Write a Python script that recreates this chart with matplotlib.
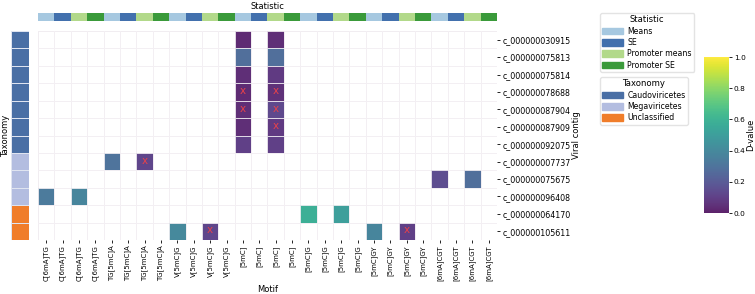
import numpy as np
import matplotlib
matplotlib.use("Agg")
import matplotlib.pyplot as plt
from matplotlib.colors import ListedColormap
from matplotlib.patches import Patch

motif_names = ["C[6mA]TG", "TG[5mC]A", "V[5mC]G", "[5mC]", "[5mC]G", "[5mC]GY", "[6mA]CGT"]
stat_names = ["Means", "SE", "Promoter means", "Promoter SE"]
stat_colors = ["#a6c8e0", "#4270ad", "#b2d98a", "#3a9a3a"]

contigs = ["c_000000030915", "c_000000075813", "c_000000075814", "c_000000078688",
           "c_000000087904", "c_000000087909", "c_000000092075", "c_000000007737",
           "c_000000075675", "c_000000096408", "c_000000064170", "c_000000105611"]
taxonomy = ["Caudoviricetes"] * 7 + ["Megaviricetes"] * 3 + ["Unclassified"] * 2
tax_names = ["Caudoviricetes", "Megaviricetes", "Unclassified"]
tax_colors = ["#4a6fa5", "#b3bde0", "#f07d2a"]

# sparse cells: row, column, D-value, significance mark
cell_rows = [0, 1, 2, 3, 4, 5, 6,
             0, 1, 2, 3, 4, 5, 6,
             7, 7, 8, 8, 9, 9, 10, 10, 11, 11, 11, 11]
cell_cols = [12, 12, 12, 12, 12, 12, 12,
             14, 14, 14, 14, 14, 14, 14,
             4, 6, 24, 26, 0, 2, 16, 18, 8, 10, 20, 22]
cell_vals = [0.03, 0.28, 0.04, 0.03, 0.04, 0.04, 0.10,
             0.04, 0.28, 0.08, 0.05, 0.13, 0.08, 0.10,
             0.30, 0.12, 0.15, 0.28, 0.33, 0.38, 0.58, 0.50, 0.40, 0.12, 0.38, 0.10]
cell_flag = [0, 0, 0, 1, 1, 0, 0,
             0, 0, 0, 1, 1, 1, 0,
             0, 1, 0, 0, 0, 0, 0, 0, 0, 1, 0, 1]

col_labels = [m for m in motif_names for _ in stat_names]
col_stats = list(range(len(stat_names))) * len(motif_names)
n_rows, n_cols = len(contigs), len(col_labels)

D = np.full((n_rows, n_cols), np.nan)
for r, c, v in zip(cell_rows, cell_cols, cell_vals):
    D[r, c] = v

W, H = 755, 294
fig = plt.figure(figsize=(W / 100, H / 100), dpi=100)

def px_axes(x0, y0, x1, y1):
    return fig.add_axes([x0 / W, 1 - y1 / H, (x1 - x0) / W, (y1 - y0) / H])

fs = 5.7
grid_c = "#e2dce2"

# main heatmap
ax = px_axes(38, 31, 497, 240)
mesh = ax.pcolormesh(np.ma.masked_invalid(D), cmap="viridis", vmin=0, vmax=1,
                     alpha=0.87, edgecolors="#f4f0f4", linewidth=0.6)
for i in range(n_cols + 1):
    ax.axvline(i, color=grid_c, lw=0.7, zorder=0)
for j in range(n_rows + 1):
    ax.axhline(j, color=grid_c, lw=0.7, zorder=0)
for r, c, f in zip(cell_rows, cell_cols, cell_flag):
    if f:
        ax.text(c + 0.5, r + 0.45, "x", color="#e8424a", ha="center", va="center",
                fontsize=7.5, zorder=5)
ax.set_xlim(0, n_cols)
ax.set_ylim(n_rows, 0)
ax.set_xticks(np.arange(n_cols) + 0.5)
ax.set_xticklabels(col_labels, rotation=90, fontsize=5.0)
ax.set_yticks(np.arange(n_rows) + 0.5)
ax.set_yticklabels(contigs, fontsize=fs)
ax.yaxis.tick_right()
ax.yaxis.set_label_position("right")
ax.tick_params(axis="y", length=2.5, width=0.6, pad=1.2)
ax.tick_params(axis="x", length=2.5, width=0.6, pad=1.2)
ax.set_xlabel("Motif", fontsize=6, labelpad=3)
ax.set_ylabel("Viral contig", fontsize=6, labelpad=1)
for s in ax.spines.values():
    s.set_visible(False)

# statistic bar on top
ax_s = px_axes(38, 13, 497, 21)
ax_s.pcolormesh(np.array([col_stats]), cmap=ListedColormap(stat_colors),
                vmin=-0.5, vmax=len(stat_names) - 0.5)
ax_s.set_xlim(0, n_cols)
ax_s.set_xticks([])
ax_s.set_yticks([])
ax_s.set_title("Statistic", fontsize=6, pad=3)
for s in ax_s.spines.values():
    s.set_visible(False)

# taxonomy bar on left
ax_t = px_axes(11, 31, 29, 240)
tax_idx = np.array([[tax_names.index(t)] for t in taxonomy])
ax_t.pcolormesh(tax_idx, cmap=ListedColormap(tax_colors), vmin=-0.5,
                vmax=len(tax_names) - 0.5, edgecolors="#dfe4f0", linewidth=0.6)
ax_t.set_ylim(n_rows, 0)
ax_t.set_xticks([])
ax_t.set_yticks([])
ax_t.set_ylabel("Taxonomy", fontsize=6, labelpad=0.5)
for s in ax_t.spines.values():
    s.set_visible(False)

# legends
leg_kw = dict(fontsize=5.6, title_fontsize=6.1, frameon=True,
              handlelength=2.6, handleheight=0.9, handletextpad=0.6,
              borderpad=0.3, labelspacing=0.3, borderaxespad=0,
              edgecolor="#dddddd", fancybox=True)
h1 = [Patch(color=c, label=n) for n, c in zip(stat_names, stat_colors)]
fig.legend(handles=h1, title="Statistic", loc="upper left",
           bbox_to_anchor=(600 / W, 1 - 13 / H), **leg_kw)
h2 = [Patch(color=c, label=n) for n, c in zip(tax_names, tax_colors)]
fig.legend(handles=h2, title="Taxonomy", loc="upper left",
           bbox_to_anchor=(600 / W, 1 - 77 / H), **leg_kw)

# colorbar
cax = px_axes(704, 57, 729, 213)
cb = fig.colorbar(mesh, cax=cax, ticks=np.arange(0, 1.01, 0.2))
cb.outline.set_visible(False)
cb.ax.tick_params(labelsize=5.3, length=2.5, width=0.6, pad=1)
cb.set_label("D-value", fontsize=6, labelpad=0)

fig.savefig("out.png", dpi=100)
